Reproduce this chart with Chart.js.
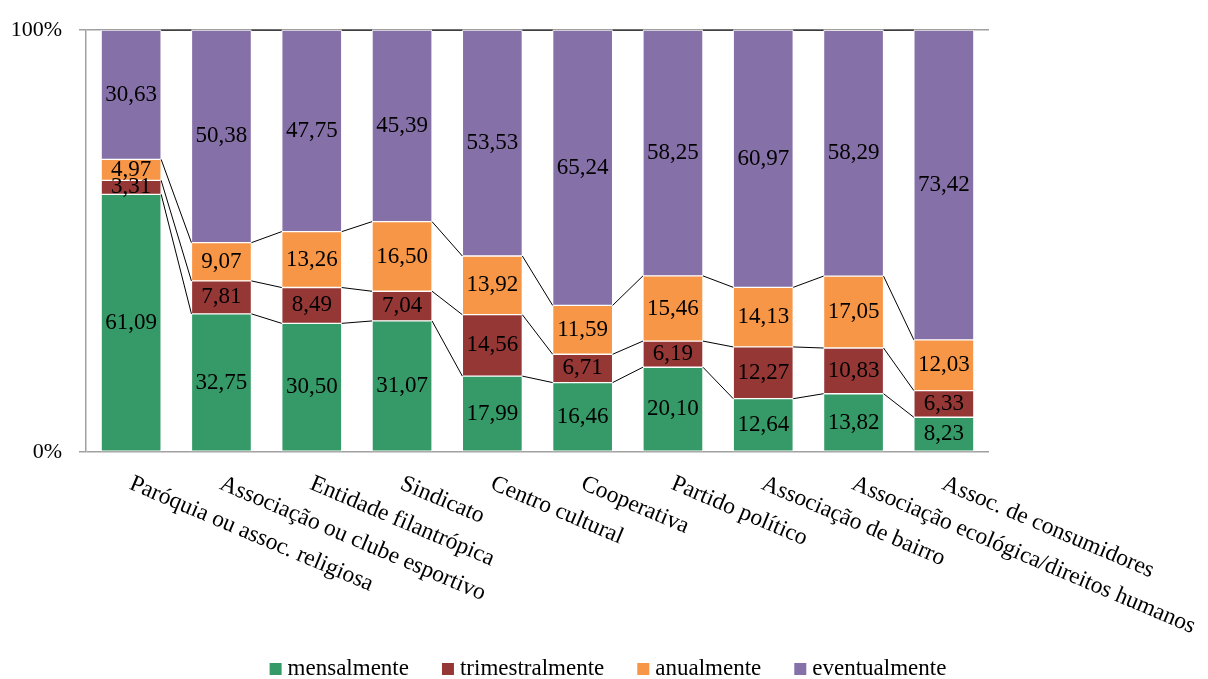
<!DOCTYPE html>
<html>
<head>
<meta charset="utf-8">
<style>
  html, body { margin: 0; padding: 0; background: #fff; }
  #wrap { width: 1208px; height: 679px; }
</style>
<script src="https://cdn.jsdelivr.net/npm/chart.js@4/dist/chart.umd.min.js"></script>
</head>
<body>
<div id="wrap"><canvas id="chart" width="1208" height="679"></canvas></div>
<script>
// Categories (types of association) and share of participation frequency, in %
const categories = [
  'Paróquia ou assoc. religiosa',
  'Associação ou clube esportivo',
  'Entidade filantrópica',
  'Sindicato',
  'Centro cultural',
  'Cooperativa',
  'Partido político',
  'Associação de bairro',
  'Associação ecológica/direitos humanos',
  'Assoc. de consumidores'
];
const seriesNames = ['mensalmente', 'trimestralmente', 'anualmente', 'eventualmente'];
const mensalmente     = [61.09, 32.75, 30.50, 31.07, 17.99, 16.46, 20.10, 12.64, 13.82, 8.23];
const trimestralmente = [3.31, 7.81, 8.49, 7.04, 14.56, 6.71, 6.19, 12.27, 10.83, 6.33];
const anualmente      = [4.97, 9.07, 13.26, 16.50, 13.92, 11.59, 15.46, 14.13, 17.05, 12.03];
const eventualmente   = [30.63, 50.38, 47.75, 45.39, 53.53, 65.24, 58.25, 60.97, 58.29, 73.42];
const yTicks = [0, 100];

const colors = ['#359a67', '#953735', '#f79646', '#8670a8'];
const FONT = '"Times New Roman", "Liberation Serif", serif';

const fmt = v => v.toFixed(2).replace('.', ',');

// Thin black lines joining the top of each segment to the same segment in the next bar
const seriesLines = {
  id: 'seriesLines',
  afterDatasetsDraw(chart) {
    const ctx = chart.ctx;
    ctx.save();
    ctx.strokeStyle = '#000';
    ctx.lineWidth = 1;
    chart.data.datasets.forEach((ds, d) => {
      const bars = chart.getDatasetMeta(d).data;
      for (let i = 0; i < bars.length - 1; i++) {
        const a = bars[i], b = bars[i + 1];
        ctx.beginPath();
        ctx.moveTo(a.x + a.width / 2, a.y);
        ctx.lineTo(b.x - b.width / 2, b.y);
        ctx.stroke();
      }
    });
    ctx.restore();
  }
};

// Value labels centred in each segment
const valueLabels = {
  id: 'valueLabels',
  afterDatasetsDraw(chart) {
    const ctx = chart.ctx;
    ctx.save();
    ctx.font = '23px ' + FONT;
    ctx.fillStyle = '#000';
    ctx.textAlign = 'center';
    ctx.textBaseline = 'middle';
    chart.data.datasets.forEach((ds, d) => {
      chart.getDatasetMeta(d).data.forEach((bar, i) => {
        ctx.fillText(fmt(ds.data[i]), bar.x, (bar.y + bar.base) / 2);
      });
    });
    ctx.restore();
  }
};

// Category labels slanted downwards, starting under each bar
const categoryLabels = {
  id: 'categoryLabels',
  afterDraw(chart) {
    const ctx = chart.ctx;
    const xs = chart.scales.x;
    const y0 = chart.chartArea.bottom + 20;
    const angle = 23 * Math.PI / 180;
    ctx.save();
    ctx.font = '23.5px ' + FONT;
    ctx.fillStyle = '#000';
    ctx.textAlign = 'left';
    ctx.textBaseline = 'top';
    chart.data.labels.forEach((lab, i) => {
      const x = xs.getPixelForValue(i) + 4;
      ctx.save();
      ctx.translate(x, y0);
      ctx.rotate(angle);
      ctx.fillText(lab, 0, 0);
      ctx.restore();
    });
    ctx.restore();
  }
};

// Legend row at the bottom, centred
const bottomLegend = {
  id: 'bottomLegend',
  afterDraw(chart) {
    const ctx = chart.ctx;
    const box = 12, gapText = 6, gapItem = 33;
    const baseline = 675;
    ctx.save();
    ctx.font = '23px ' + FONT;
    const items = chart.data.datasets.map(ds => ({
      text: ds.label, color: ds.backgroundColor, w: ctx.measureText(ds.label).width
    }));
    const total = items.reduce((s, it) => s + box + gapText + it.w, 0) + gapItem * (items.length - 1);
    let x = chart.width / 2 + 4 - total / 2;
    ctx.textBaseline = 'alphabetic';
    ctx.textAlign = 'left';
    items.forEach(it => {
      ctx.fillStyle = it.color;
      ctx.fillRect(x, baseline - box, box, box);
      x += box + gapText;
      ctx.fillStyle = '#000';
      ctx.fillText(it.text, x, baseline);
      x += it.w + gapItem;
    });
    ctx.restore();
  }
};

const seriesData = [mensalmente, trimestralmente, anualmente, eventualmente];

new Chart(document.getElementById('chart'), {
  type: 'bar',
  data: {
    labels: categories,
    datasets: seriesNames.map((name, k) => ({
      label: name,
      data: seriesData[k],
      backgroundColor: colors[k],
      borderColor: 'rgba(255,255,255,0.55)',
      borderWidth: 1,
      borderSkipped: false,
      barThickness: 60
    }))
  },
  options: {
    responsive: false,
    animation: false,
    layout: { autoPadding: false, padding: { top: 27, right: 219, bottom: 227, left: 0 } },
    plugins: {
      legend: { display: false },
      tooltip: { enabled: false }
    },
    scales: {
      x: {
        stacked: true,
        display: false
      },
      y: {
        stacked: true,
        min: 0,
        max: 100,
        afterFit(scale) { scale.width = 86; },
        afterBuildTicks(scale) { scale.ticks = yTicks.map(v => ({ value: v })); },
        border: { display: true, color: '#a0a0a0', width: 1.5 },
        grid: { color: '#a0a0a0', lineWidth: 1.5, drawTicks: true, tickLength: 7 },
        ticks: {
          padding: 17,
          color: '#000',
          font: { family: FONT, size: 22 },
          callback: v => v + '%'
        }
      }
    }
  },
  plugins: [seriesLines, valueLabels, categoryLabels, bottomLegend]
});
</script>
</body>
</html>
